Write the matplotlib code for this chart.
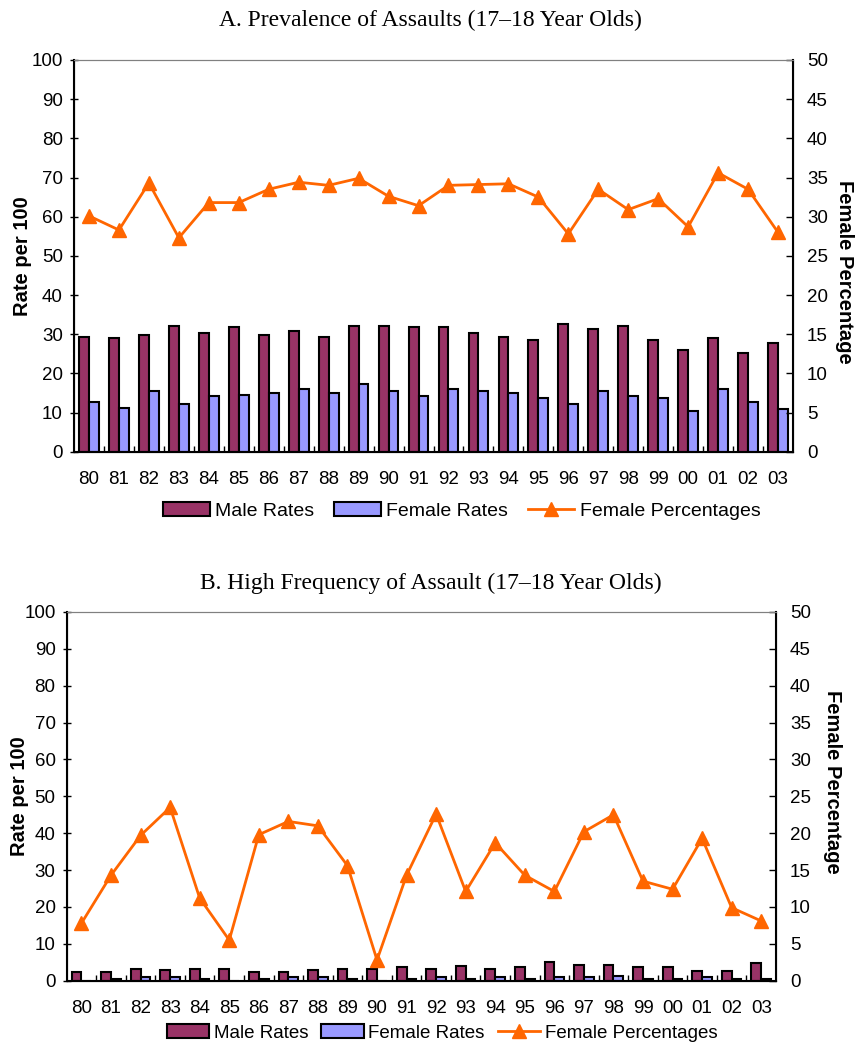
import numpy as np
import matplotlib
matplotlib.use('Agg')
import matplotlib.pyplot as plt
from matplotlib.patches import Patch
from matplotlib.lines import Line2D

plt.rcParams['font.family'] = ['Liberation Sans', 'DejaVu Sans']

years = ['80', '81', '82', '83', '84', '85', '86', '87', '88', '89', '90', '91',
         '92', '93', '94', '95', '96', '97', '98', '99', '00', '01', '02', '03']

# panel A - prevalence
male_a = [29.3, 28.9, 29.9, 32.2, 30.3, 31.8, 29.9, 30.8, 29.3, 32.2, 32.2, 31.8,
          31.9, 30.4, 29.4, 28.4, 32.6, 31.4, 32.2, 28.4, 26.0, 28.9, 25.1, 27.8]
female_a = [12.6, 11.2, 15.5, 12.2, 14.1, 14.6, 15.1, 16.0, 15.1, 17.4, 15.5, 14.1,
            16.0, 15.6, 15.1, 13.6, 12.3, 15.6, 14.1, 13.6, 10.4, 16.0, 12.7, 10.9]
pct_a = [30.1, 28.3, 34.3, 27.3, 31.8, 31.8, 33.5, 34.4, 34.0, 34.9, 32.6, 31.4,
         34.0, 34.1, 34.2, 32.5, 27.8, 33.5, 30.9, 32.3, 28.7, 35.6, 33.5, 28.0]

# panel B - high frequency
male_b = [2.4, 2.4, 3.3, 2.8, 3.3, 3.3, 2.4, 2.4, 2.8, 3.3, 3.3, 3.6,
          3.3, 4.1, 3.3, 3.6, 5.2, 4.2, 4.2, 3.6, 3.6, 2.7, 2.7, 4.7]
female_b = [0, 0.5, 1.1, 1.1, 0.5, 0, 0.5, 1.1, 1.1, 0.5, 0, 0.5,
            1.1, 0.5, 1.1, 0.5, 1.1, 1.1, 1.4, 0.5, 0.5, 1.1, 0.5, 0.5]
pct_b = [7.8, 14.3, 19.7, 23.5, 11.2, 5.5, 19.8, 21.6, 21.0, 15.6, 2.8, 14.3,
         22.6, 12.1, 18.7, 14.3, 12.1, 20.2, 22.5, 13.5, 12.4, 19.3, 9.9, 8.1]

male_col = '#993366'
female_col = '#9999FF'
line_col = '#FF6600'

W, H = 858, 1046
fig = plt.figure(figsize=(W / 100, H / 100), dpi=100)


def draw_panel(rect, male, female, pct, lab_left, lab_right):
    ax = fig.add_axes(rect)
    x = np.arange(len(years))
    w = 0.33
    ax.bar(x - w / 2, male, w, color=male_col, edgecolor='black', linewidth=1.5)
    ax.bar(x + w / 2, female, w, color=female_col, edgecolor='black', linewidth=1.5)
    ax.set_xlim(-0.5, len(years) - 0.5)
    ax.set_ylim(0, 100)
    ax.set_yticks(range(0, 101, 10))
    ax.set_xticks(x)
    ax.set_xticklabels(years)
    ax.set_xticks(np.arange(0.5, len(years) - 1, 1), minor=True)
    ax.tick_params(axis='x', which='major', length=0, pad=14, labelsize=13.5)
    ax.tick_params(axis='x', which='minor', direction='in', length=4, width=1)
    ax.tick_params(axis='y', direction='inout', length=6, width=1, labelsize=13.5, pad=5)
    ax.set_ylabel('Rate per 100', fontsize=14.5, fontweight='bold',
                  va='center', ha='center')
    ax.yaxis.set_label_coords(*lab_left)
    ax.spines['top'].set_color('#808080')
    ax.spines['left'].set_linewidth(1.5)
    ax.spines['bottom'].set_linewidth(1.5)

    ax2 = ax.twinx()
    ax2.plot(x, pct, color=line_col, linewidth=2, marker='^', markersize=10.5)
    ax2.set_ylim(0, 50)
    ax2.set_yticks(range(0, 51, 5))
    ax2.tick_params(axis='y', direction='in', length=5, width=1, labelsize=13.5, pad=10)
    ax2.set_ylabel('Female Percentage', fontsize=14.5, fontweight='bold',
                   rotation=270, va='center', ha='center')
    ax2.yaxis.set_label_coords(*lab_right)
    ax2.spines['top'].set_color('#808080')
    ax2.spines['right'].set_linewidth(1.5)
    return ax


def box(l, t, r, b):
    return [l / W, 1 - b / H, (r - l) / W, (b - t) / H]


draw_panel(box(74, 60, 793, 451.7), male_a, female_a, pct_a,
           (-0.072, 0.5), (1.072, 0.46))
draw_panel(box(66.7, 612, 776, 980.7), male_b, female_b, pct_b,
           (-0.066, 0.5), (1.079, 0.54))

fig.text(430 / W, 1 - 20 / H, 'A. Prevalence of Assaults (17\u201318 Year Olds)',
         ha='center', va='center', fontsize=17, family='Liberation Serif')
fig.text(431 / W, 1 - 583 / H, 'B. High Frequency of Assault (17\u201318 Year Olds)',
         ha='center', va='center', fontsize=17, family='Liberation Serif')

handles = [Patch(facecolor=male_col, edgecolor='black', linewidth=1.5),
           Patch(facecolor=female_col, edgecolor='black', linewidth=1.5),
           Line2D([], [], color=line_col, linewidth=2, marker='^', markersize=10)]
labels = ['Male Rates', 'Female Rates', 'Female Percentages']

fig.legend(handles, labels, loc='center', bbox_to_anchor=(462 / W, 1 - 511 / H),
           ncol=3, frameon=False, fontsize=14, handlelength=2.4, handleheight=0.7,
           handletextpad=0.3, columnspacing=1.0)
fig.legend(handles, labels, loc='center', bbox_to_anchor=(442 / W, 1 - 1033 / H),
           ncol=3, frameon=False, fontsize=13.5, handlelength=2.25, handleheight=0.7,
           handletextpad=0.25, columnspacing=0.7)

fig.savefig('out.png', dpi=100)
